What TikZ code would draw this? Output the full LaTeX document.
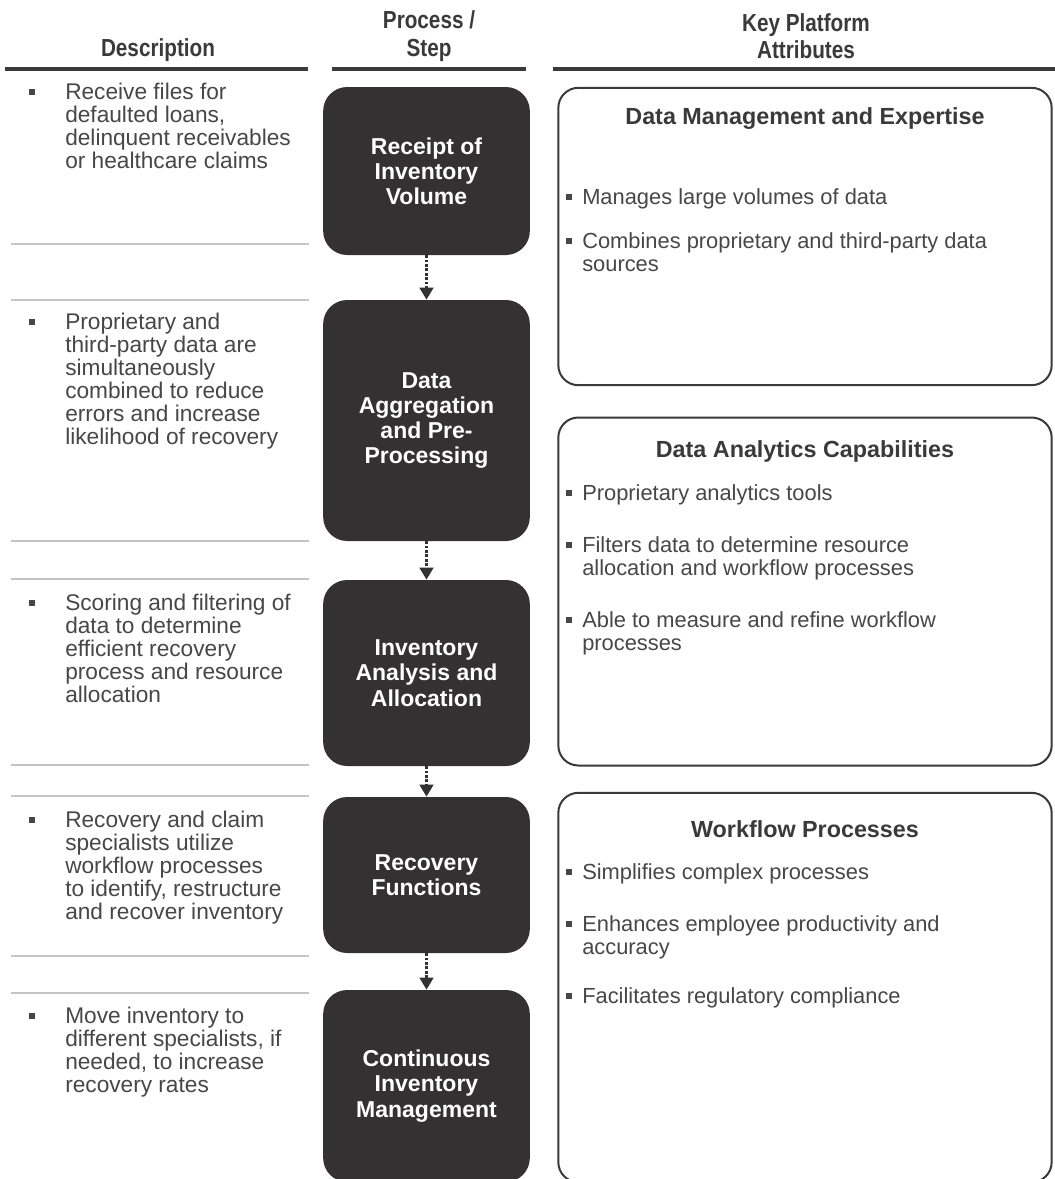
\documentclass[tikz,border=0pt]{standalone}
\usepackage{fontspec}
\setmainfont{Liberation Sans}
\usetikzlibrary{arrows.meta}
\definecolor{boxfill}{HTML}{333132}
\definecolor{txtgrey}{HTML}{474747}
\definecolor{rulegrey}{HTML}{3A3A3A}
\definecolor{sepgrey}{HTML}{C4C4C4}
\newcommand{\hdr}[1]{\scalebox{0.84}[1]{#1}}
\begin{document}
\begin{tikzpicture}[x=0.75pt,y=-0.75pt,
  stepbox/.style={fill=boxfill, rounded corners=18pt, minimum width=155pt, inner sep=0pt,
    text=white, font=\bfseries\fontsize{17.25}{18.9}\selectfont, align=center},
  attrbox/.style={draw=rulegrey, line width=1.5pt, rounded corners=15pt, minimum width=370pt, inner sep=0pt},
  head/.style={text=rulegrey, font=\bfseries\fontsize{18.5}{20.5}\selectfont, align=center, inner sep=0pt},
  desc/.style={anchor=base west, text=txtgrey, font=\fontsize{17}{17.25}\selectfont, align=left, inner sep=0pt},
  attr/.style={anchor=base west, text=txtgrey, font=\fontsize{16.4}{17.25}\selectfont, align=left, inner sep=0pt},
  title/.style={anchor=base, text=rulegrey, font=\bfseries\fontsize{17.5}{20}\selectfont, inner sep=0pt},
  bul/.style={fill=txtgrey, minimum size=4.5pt, inner sep=0pt},
  sbul/.style={fill=txtgrey, minimum size=3.8pt, inner sep=0pt},
  sep/.style={draw=sepgrey, line width=1.1pt},
  hrule/.style={draw=rulegrey, line width=3pt},
  flow/.style={draw=boxfill, line width=2.6pt, dash pattern=on 2pt off 1.3pt,
    -{Triangle[length=9pt,width=10pt]}, shorten >=0pt}
]
\clip (0,0) rectangle (1055,1179);
\fill[white] (0,0) rectangle (1055,1179);

% headers
\node[head] (hdesc) at (158,50) {\hdr{Description}};
\node[head] (hproc) at (429,36) {\hdr{Process /}\\\hdr{Step}};
\node[head] (hattr) at (806,36) {\hdr{Key Platform}\\\hdr{Attributes}};
\draw[hrule] (5,69) -- (308,69);
\draw[hrule] (332,69) -- (526,69);
\draw[hrule] (553,69) -- (1055,69);

% separators
\foreach \yy in {244,300,541,579,765,796,956,993}{\draw[sep] (11,\yy) -- (309,\yy);}

% descriptions (base = baseline of last line)
\node[bul] (b1) at (32,92) {};
\node[desc] (d1) at (65,168) {Receive files for\\defaulted loans,\\delinquent receivables\\or healthcare claims};
\node[bul] (b2) at (32,322) {};
\node[desc] (d2) at (65,444) {Proprietary and\\third-party data are\\simultaneously\\combined to reduce\\errors and increase\\likelihood of recovery};
\node[bul] (b3) at (32,603) {};
\node[desc] (d3) at (65,702) {Scoring and filtering of\\data to determine\\efficient recovery\\process and resource\\allocation};
\node[bul] (b4) at (32,820) {};
\node[desc] (d4) at (65,919) {Recovery and claim\\specialists utilize\\workflow processes\\to identify, restructure\\and recover inventory};
\node[bul] (b5) at (32,1016) {};
\node[desc] (d5) at (65,1092) {Move inventory to\\different specialists, if\\needed, to increase\\recovery rates};

% process steps
\node[stepbox, minimum height=126pt] (s1) at (426.5,171) {Receipt of\\Inventory\\Volume};
\node[stepbox, minimum height=180.75pt] (s2) at (426.5,420.5) {Data\\Aggregation\\and Pre-\\Processing};
\node[stepbox, minimum height=139.5pt] (s3) at (426.5,673) {Inventory\\Analysis and\\Allocation};
\node[stepbox, minimum height=117pt] (s4) at (426.5,875) {Recovery\\Functions};
\node[stepbox, minimum height=144pt] (s5) at (426.5,1086) {Continuous\\Inventory\\Management};
\draw[flow] (s1) -- (s2);
\draw[flow] (s2) -- (s3);
\draw[flow] (s3) -- (s4);
\draw[flow] (s4) -- (s5);

% attribute boxes
\node[attrbox, minimum height=223pt] (a1) at (805,236.5) {};
\node[attrbox, minimum height=261pt] (a2) at (805,591.5) {};
\node[attrbox, minimum height=292pt] (a3) at (805,987.5) {};

\node[title] (t1) at (805,124) {Data Management and Expertise};
\node[sbul] (c11) at (569,197) {};
\node[attr] (e11) at (582,204) {Manages large volumes of data};
\node[sbul] (c12) at (569,241) {};
\node[attr] (e12) at (582,271) {Combines proprietary and third-party data\\sources};

\node[title] (t2) at (805,457) {Data Analytics Capabilities};
\node[sbul] (c21) at (569,493) {};
\node[attr] (e21) at (582,500) {Proprietary analytics tools};
\node[sbul] (c22) at (569,545) {};
\node[attr] (e22) at (582,575) {Filters data to determine resource\\allocation and workflow processes};
\node[sbul] (c23) at (569,620) {};
\node[attr] (e23) at (582,650) {Able to measure and refine workflow\\processes};

\node[title] (t3) at (805,837) {Workflow Processes};
\node[sbul] (c31) at (569,872) {};
\node[attr] (e31) at (582,879) {Simplifies complex processes};
\node[sbul] (c32) at (569,924) {};
\node[attr] (e32) at (582,954) {Enhances employee productivity and\\accuracy};
\node[sbul] (c33) at (569,996) {};
\node[attr] (e33) at (582,1003) {Facilitates regulatory compliance};
\end{tikzpicture}
\end{document}
